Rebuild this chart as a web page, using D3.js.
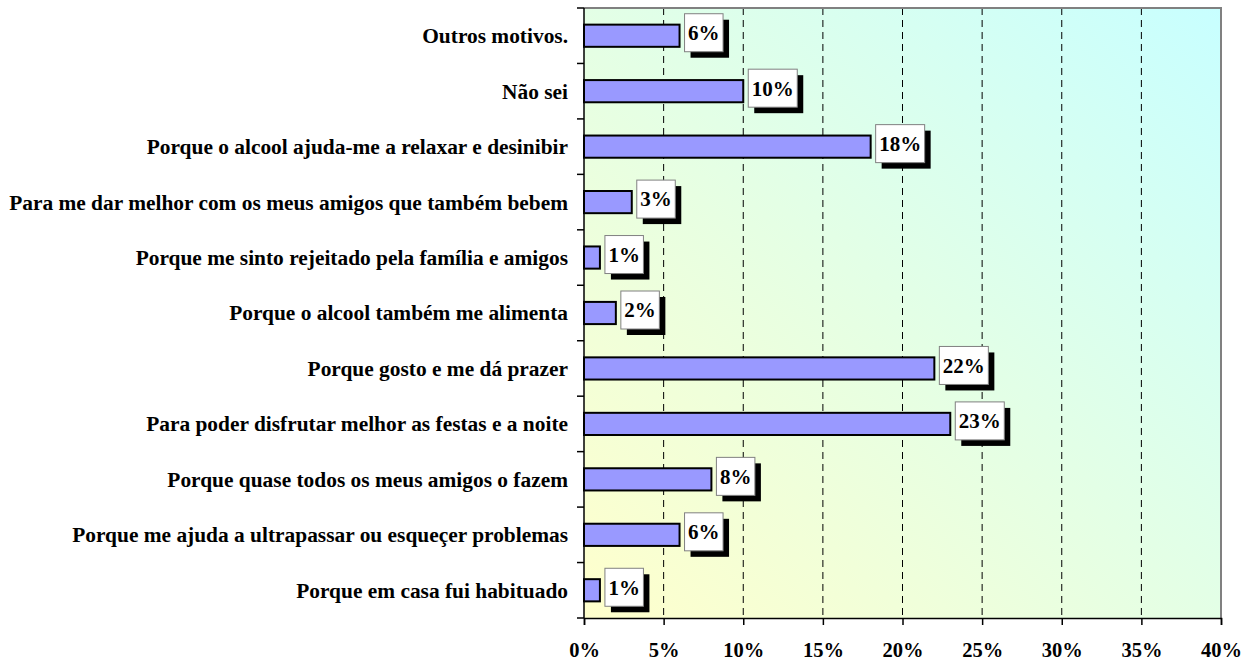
<!DOCTYPE html>
<html>
<head>
<meta charset="utf-8">
<script src="https://d3js.org/d3.v7.min.js"></script>
<style>
  body { margin: 0; background: #fff; }
  text { font-family: "Liberation Serif", "Times New Roman", serif; font-weight: bold; fill: #000; }
</style>
</head>
<body>
<script>
// categories from top to bottom
var categories = [
  "Outros motivos.",
  "Não sei",
  "Porque o alcool ajuda-me a relaxar e desinibir",
  "Para me dar melhor com os meus amigos que também bebem",
  "Porque me sinto rejeitado pela família e amigos",
  "Porque o alcool também me alimenta",
  "Porque gosto e me dá prazer",
  "Para poder disfrutar melhor as festas e a noite",
  "Porque quase todos os meus amigos o fazem",
  "Porque me ajuda a ultrapassar ou esqueçer problemas",
  "Porque em casa fui habituado"
];
var values = [0.06, 0.10, 0.18, 0.03, 0.01, 0.02, 0.22, 0.23, 0.08, 0.06, 0.01];
var xTicks = [0, 0.05, 0.10, 0.15, 0.20, 0.25, 0.30, 0.35, 0.40];

var w = 1248, h = 662;
var pLeft = 584, pTop = 8, pRight = 1221, pBottom = 618;

var svg = d3.select("body").append("svg")
  .attr("width", w).attr("height", h);

// yellow (bottom-left) to cyan (top-right) background
var defs = svg.append("defs");
var grad = defs.append("linearGradient")
  .attr("id", "bg")
  .attr("x1", "0%").attr("y1", "100%")
  .attr("x2", "100%").attr("y2", "0%");
grad.append("stop").attr("offset", "0%").attr("stop-color", "#ffffcc");
grad.append("stop").attr("offset", "100%").attr("stop-color", "#c8ffff");

var x = d3.scaleLinear().domain([0, 0.4]).range([pLeft, pRight]);
var y = d3.scaleBand().domain(categories).range([pTop, pBottom])
  .paddingInner(0.6).paddingOuter(0.3);

// plot background
svg.append("rect")
  .attr("x", pLeft).attr("y", pTop)
  .attr("width", pRight - pLeft).attr("height", pBottom - pTop)
  .attr("fill", "url(#bg)");

// dashed grid lines
svg.append("g").selectAll("line")
  .data(xTicks.slice(1, -1))
  .enter().append("line")
  .attr("x1", function(d) { return x(d); })
  .attr("x2", function(d) { return x(d); })
  .attr("y1", pTop).attr("y2", pBottom)
  .attr("stroke", "#000").attr("stroke-width", 1)
  .attr("stroke-dasharray", "7,5");

// gray top and right borders
svg.append("path")
  .attr("d", "M" + pLeft + "," + pTop + "H" + pRight + "V" + pBottom)
  .attr("fill", "none").attr("stroke", "#808080").attr("stroke-width", 2);

// bars
svg.append("g").selectAll("rect")
  .data(values)
  .enter().append("rect")
  .attr("x", x(0))
  .attr("y", function(d, i) { return y(categories[i]); })
  .attr("width", function(d) { return x(d) - x(0); })
  .attr("height", y.bandwidth())
  .attr("fill", "#9999ff")
  .attr("stroke", "#000").attr("stroke-width", 2);

// x axis
var xAxis = svg.append("g")
  .attr("transform", "translate(0," + pBottom + ")")
  .call(d3.axisBottom(x).tickValues(xTicks).tickFormat(d3.format(".0%"))
    .tickSize(7).tickPadding(17));
xAxis.attr("font-family", null).attr("font-size", null);
xAxis.select(".domain").attr("stroke", "#000").attr("stroke-width", 1.5);
xAxis.selectAll(".tick line").attr("stroke", "#000").attr("stroke-width", 1.5);
xAxis.selectAll("text").style("font-size", "20.5px");

// y axis line and boundary ticks
svg.append("line")
  .attr("x1", pLeft).attr("x2", pLeft).attr("y1", pTop).attr("y2", pBottom)
  .attr("stroke", "#000").attr("stroke-width", 1.5);
var bounds = d3.range(categories.length + 1).map(function(i) { return pTop + i * y.step(); });
svg.append("g").selectAll("line")
  .data(bounds)
  .enter().append("line")
  .attr("x1", pLeft - 7).attr("x2", pLeft)
  .attr("y1", function(d) { return d; }).attr("y2", function(d) { return d; })
  .attr("stroke", "#000").attr("stroke-width", 1.5);

// category labels
svg.append("g").selectAll("text")
  .data(categories)
  .enter().append("text")
  .attr("x", 568)
  .attr("y", function(d) { return y(d) + y.bandwidth() / 2; })
  .attr("dy", "0.35em")
  .attr("text-anchor", "end")
  .style("font-size", "21.4px")
  .text(function(d) { return d; });

// value labels with shadowed boxes
var lab = svg.append("g").selectAll("g")
  .data(values)
  .enter().append("g");
lab.each(function(d, i) {
  var g = d3.select(this);
  var cy = y(categories[i]) + y.bandwidth() / 2 - 3;
  var bx = x(d) + 5;
  var shadow = g.append("rect").attr("fill", "#000");
  var box = g.append("rect").attr("fill", "#fff")
    .attr("stroke", "#808080").attr("stroke-width", 1);
  var t = g.append("text")
    .attr("y", cy).attr("dy", "0.35em")
    .style("font-size", "21px")
    .text(Math.round(d * 100) + "%");
  var tw = t.node().getComputedTextLength();
  var bw = tw + 7, bh = 38;
  t.attr("x", bx + 3.5);
  box.attr("x", bx).attr("y", cy - bh / 2).attr("width", bw).attr("height", bh);
  shadow.attr("x", bx + 6).attr("y", cy - bh / 2 + 6).attr("width", bw).attr("height", bh);
});
</script>
</body>
</html>
